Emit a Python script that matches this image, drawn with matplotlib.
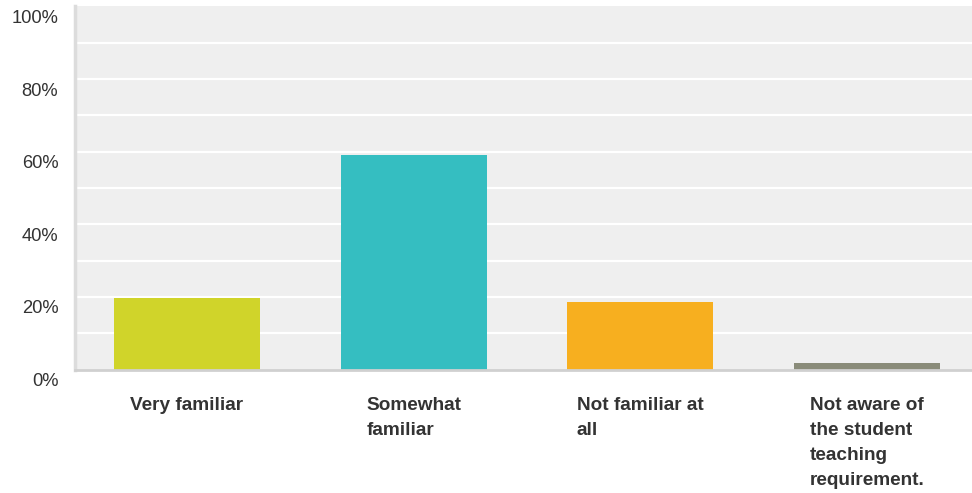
import matplotlib
matplotlib.use("Agg")
import matplotlib.pyplot as plt
import matplotlib.transforms as mtransforms
import numpy as np

categories = ["Very familiar", "Somewhat\nfamiliar", "Not familiar at\nall",
              "Not aware of\nthe student\nteaching\nrequirement."]
values = [19.8, 59.2, 18.5, 1.9]
colors = ["#D0D42A", "#35BEC1", "#F7AF1F", "#8A8C7A"]
ytick_vals = [0, 20, 40, 60, 80, 100]
ytick_labels = ["0%", "20%", "40%", "60%", "80%", "100%"]

plt.rcParams["font.family"] = ["Liberation Sans", "DejaVu Sans"]

fig = plt.figure(figsize=(9.72, 4.93), dpi=100)
ax = fig.add_axes([75 / 972, (493 - 369.5) / 493, 1 - 75 / 972, (369.5 - 6.4) / 493])
ax.set_facecolor("#EFEFEF")

x = np.arange(len(categories))
ax.bar(x, values, width=0.644, color=colors, zorder=3)

ax.set_xlim(-0.494, 3.463)
ax.set_ylim(0, 100)

# white grid every 10%
for g in range(10, 100, 10):
    ax.axhline(g, color="white", lw=1.6, zorder=1)

ax.set_yticks(ytick_vals)
ax.set_yticklabels(ytick_labels, fontsize=13.2, color="#333333")
ax.tick_params(axis="y", length=0, pad=12)
# labels sit a bit below their gridline
offset = mtransforms.ScaledTranslation(0, -10 / 100, fig.dpi_scale_trans)
for lbl in ax.get_yticklabels():
    lbl.set_transform(lbl.get_transform() + offset)

ax.set_xticks([])
for xi, cat in zip(x, categories):
    ax.text(xi, -7.6, cat, ha="center", va="top", multialignment="left",
            fontsize=13.7, fontweight="bold", color="#333333", linespacing=1.62,
            clip_on=False)

for s in ["top", "right"]:
    ax.spines[s].set_visible(False)
ax.spines["left"].set_color("#DCDCDC")
ax.spines["left"].set_linewidth(2.5)
ax.spines["bottom"].set_color("#D0D0D0")
ax.spines["bottom"].set_linewidth(2)
ax.spines["bottom"].set_zorder(4)

fig.savefig("out.png", dpi=100)
